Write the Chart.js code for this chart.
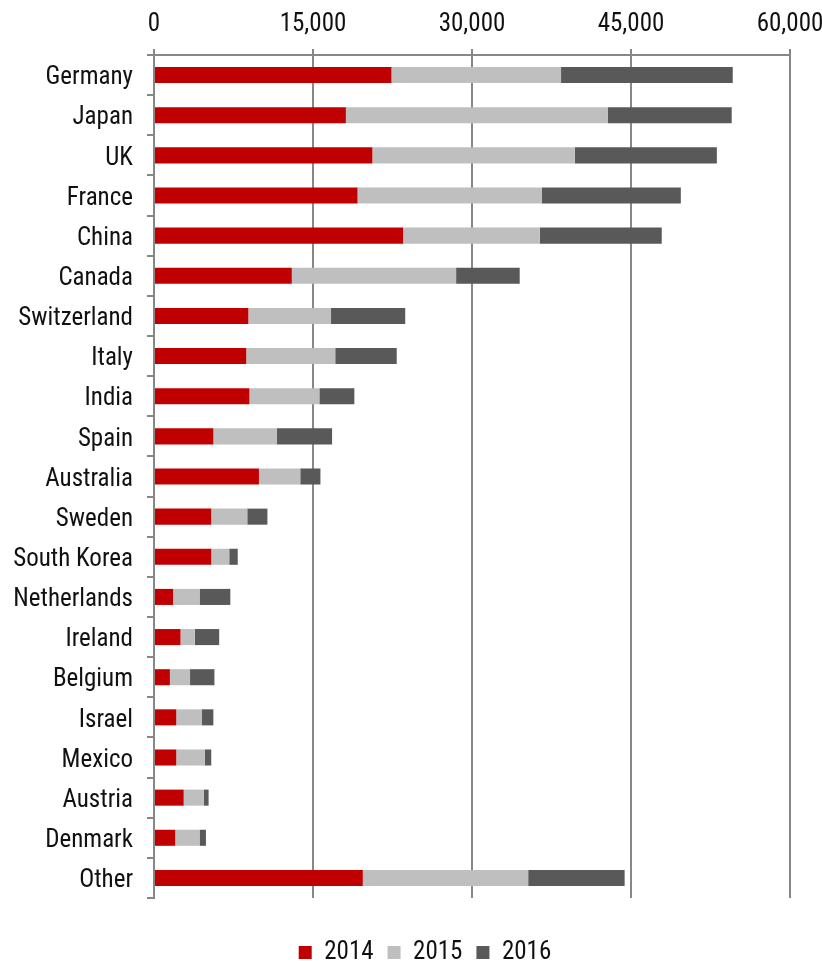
<!DOCTYPE html>
<html>
<head>
<meta charset="utf-8">
<script src="https://cdn.jsdelivr.net/npm/chart.js@4/dist/chart.umd.min.js"></script>
<style>
  html, body { margin: 0; padding: 0; background: #ffffff; }
  #wrap { width: 822px; height: 963px; }
</style>
</head>
<body>
<div id="wrap"><canvas id="c" width="822" height="963"></canvas></div>
<script>
const categories = ["Germany","Japan","UK","France","China","Canada","Switzerland","Italy","India","Spain","Australia","Sweden","South Korea","Netherlands","Ireland","Belgium","Israel","Mexico","Austria","Denmark","Other"];
const values2014 = [22400,18100,20600,19200,23500,13000,8900,8700,9000,5600,9900,5400,5400,1800,2500,1500,2100,2100,2800,2000,19700];
const values2015 = [16000,24700,19100,17400,12900,15500,7800,8400,6600,6000,3900,3400,1700,2500,1350,1900,2400,2700,1900,2300,15600];
const values2016 = [16200,11700,13400,13100,11500,6000,7000,5800,3300,5200,1900,1900,800,2900,2300,2300,1100,600,450,600,9100];
const seriesLabels = ["2014","2015","2016"];
const seriesColors = ["#C00000","#BFBFBF","#595959"];
const xTickValues = [0,15000,30000,45000,60000];

const FONT = "'Liberation Sans Narrow','Arial Narrow','Roboto Condensed',sans-serif";
const AXIS = "#878787";

const shiftLegend = {
  id: "shiftLegend",
  afterLayout(chart) {
    const l = chart.legend;
    if (l) { l.left += 14; l.right += 14; }
  }
};

const chart = new Chart(document.getElementById("c"), {
  type: "bar",
  data: {
    labels: categories,
    datasets: [values2014, values2015, values2016].map((vals, i) => ({
      label: seriesLabels[i],
      data: vals,
      backgroundColor: seriesColors[i],
      borderWidth: 0,
      categoryPercentage: 1,
      barPercentage: 0.4
    }))
  },
  plugins: [shiftLegend],
  options: {
    indexAxis: "y",
    responsive: false,
    animation: false,
    layout: { padding: { left: 0, right: 0, top: 0, bottom: -12 } },
    scales: {
      x: {
        type: "linear",
        position: "top",
        stacked: true,
        min: 0,
        max: 60000,
        afterBuildTicks: (s) => { s.ticks = xTickValues.map(v => ({ value: v })); },
        afterFit: (s) => { s.height = 55; s.paddingRight = 32; s.paddingLeft = 0; },
        ticks: {
          font: { family: FONT, size: 25 },
          color: "#111111",
          padding: 9,
          callback: (v) => Number(v).toLocaleString("en-US")
        },
        grid: { color: AXIS, lineWidth: 2, tickLength: 6, drawTicks: true },
        border: { display: true, color: AXIS, width: 2 }
      },
      y: {
        type: "category",
        stacked: true,
        afterFit: (s) => { s.width = 154; },
        ticks: {
          font: { family: FONT, size: 25 },
          color: "#111111",
          padding: 14,
          labelOffset: 3
        },
        grid: { drawOnChartArea: false, drawTicks: true, tickLength: 7, color: AXIS, lineWidth: 2, offset: true },
        border: { display: true, color: AXIS, width: 2 }
      }
    },
    plugins: {
      tooltip: { enabled: false },
      legend: {
        position: "bottom",
        title: { display: true, text: "", font: { size: 10, lineHeight: 1 }, padding: { top: 18, bottom: 0 } },
        labels: {
          font: { family: FONT, size: 25 },
          color: "#111111",
          boxWidth: 13,
          boxHeight: 13,
          padding: 14
        }
      }
    }
  }
});
</script>
</body>
</html>
